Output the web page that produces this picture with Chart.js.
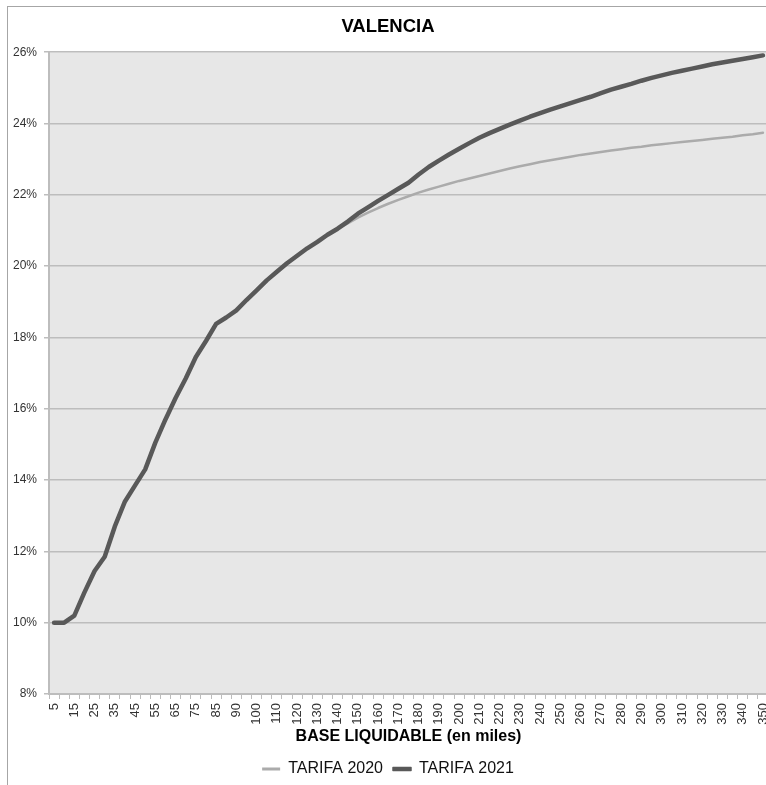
<!DOCTYPE html>
<html>
<head>
<meta charset="utf-8">
<title>VALENCIA</title>
<script src="https://cdn.jsdelivr.net/npm/chart.js@4.4.1/dist/chart.umd.min.js"></script>
<style>
  html, body { margin: 0; padding: 0; background: #fff; overflow: hidden; width: 766px; height: 785px; }
  #frame { position: absolute; left: 7px; top: 6px; width: 771px; height: 790px; border: 1px solid #a6a6a6; }
  #frame canvas { display: block; }
</style>
</head>
<body>
<div id="frame"><canvas id="chart" width="771" height="790" style="width:771px;height:790px"></canvas></div>
<script>
  // base liquidable (miles de euros); only every second one gets a label
  const categories = [
    "5", "10", "15", "20", "25", "30", "35", "40", "45", "50",
    "55", "60", "65", "70", "75", "80", "85", "87,5", "90", "95",
    "100", "105", "110", "115", "120", "125", "130", "135", "140", "145",
    "150", "155", "160", "165", "170", "175", "180", "185", "190", "195",
    "200", "205", "210", "215", "220", "225", "230", "235", "240", "245",
    "250", "255", "260", "265", "270", "275", "280", "285", "290", "295",
    "300", "305", "310", "315", "320", "325", "330", "335", "340", "345", "350"
  ];

  // tipo medio (%)
  const tarifa2020 = [
    10.0, 10.0, 10.2, 10.85, 11.45, 11.85, 12.7, 13.4, 13.85, 14.3,
    15.05, 15.7, 16.3, 16.85, 17.45, 17.9, 18.38, 18.56, 18.76, 19.05,
    19.32, 19.6, 19.84, 20.08, 20.29, 20.5, 20.68, 20.88, 21.05, 21.2,
    21.36, 21.5, 21.63, 21.75, 21.86, 21.96, 22.06, 22.15, 22.23, 22.31,
    22.39, 22.46, 22.53, 22.6, 22.67, 22.74, 22.8, 22.86, 22.92, 22.97,
    23.02, 23.07, 23.12, 23.16, 23.2, 23.24, 23.28, 23.32, 23.35, 23.39,
    23.42, 23.45, 23.48, 23.51, 23.54, 23.57, 23.6, 23.63, 23.67, 23.7, 23.74
  ];

  const tarifa2021 = [
    10.0, 10.0, 10.2, 10.85, 11.45, 11.85, 12.7, 13.4, 13.85, 14.3,
    15.05, 15.7, 16.3, 16.85, 17.45, 17.9, 18.38, 18.56, 18.76, 19.05,
    19.32, 19.6, 19.84, 20.08, 20.29, 20.5, 20.68, 20.88, 21.05, 21.25,
    21.47, 21.65, 21.83, 22.0, 22.17, 22.34, 22.57, 22.78, 22.96, 23.13,
    23.29, 23.45, 23.6, 23.73, 23.85, 23.97, 24.08, 24.19, 24.29, 24.39,
    24.48, 24.57, 24.66, 24.75, 24.85, 24.95, 25.03, 25.11, 25.2, 25.28,
    25.35, 25.42, 25.48, 25.54, 25.6, 25.66, 25.71, 25.76, 25.81, 25.86, 25.91
  ];

  const yTicks = [8, 10, 12, 14, 16, 18, 20, 22, 24, 26];

  const FONT = "'Liberation Sans Narrow', 'Arial Narrow', 'Liberation Sans', Arial, sans-serif";

  // grey plot area like the Excel original
  const plotBg = {
    id: "plotBg",
    beforeDraw(chart) {
      const { ctx, chartArea } = chart;
      ctx.save();
      ctx.fillStyle = "#e7e7e7";
      ctx.fillRect(chartArea.left, chartArea.top, chartArea.right - chartArea.left, chartArea.bottom - chartArea.top);
      ctx.restore();
    }
  };

  const ctx = document.getElementById("chart").getContext("2d");
  new Chart(ctx, {
    type: "line",
    data: {
      labels: categories,
      datasets: [
        {
          label: "TARIFA 2021",
          data: tarifa2021,
          borderColor: "#595959",
          backgroundColor: "#595959",
          borderWidth: 4.5,
          pointRadius: 0,
          tension: 0,
          borderCapStyle: "round",
          borderJoinStyle: "round"
        },
        {
          label: "TARIFA 2020",
          data: tarifa2020,
          borderColor: "#ababab",
          backgroundColor: "#ababab",
          borderWidth: 2.5,
          pointRadius: 0,
          tension: 0,
          borderCapStyle: "round",
          borderJoinStyle: "round"
        }
      ]
    },
    options: {
      responsive: false,
      animation: false,
      layout: { padding: { left: 0, right: 11, top: 0, bottom: 10 } },
      plugins: {
        title: {
          display: true,
          text: "VALENCIA",
          color: "#000",
          font: { family: FONT, size: 18.5, weight: "bold" },
          padding: { top: 9, bottom: 14 }
        },
        legend: {
          position: "bottom",
          reverse: true,
          labels: {
            color: "#111",
            font: { family: FONT, size: 16 },
            boxWidth: 18,
            boxHeight: 3,
            padding: 10,
            generateLabels(chart) {
              const items = Chart.defaults.plugins.legend.labels.generateLabels(chart);
              items.forEach(it => {
                it.fillStyle = it.strokeStyle;
                it.lineWidth = it.text === "TARIFA 2021" ? 1.5 : 0;
              });
              return items;
            }
          }
        },
        tooltip: { enabled: false }
      },
      scales: {
        x: {
          offset: true,
          grid: { display: true, drawOnChartArea: false, offset: true, tickLength: 5, color: "#bdbdbd", lineWidth: 1 },
          border: { display: true, color: "#bdbdbd", width: 2 },
          ticks: {
            autoSkip: false,
            minRotation: 90,
            maxRotation: 90,
            padding: 4,
            color: "#333",
            font: { family: FONT, size: 13 },
            callback: (val, i) => (i % 2 === 0 ? categories[i] : "")
          },
          title: {
            display: true,
            text: "BASE LIQUIDABLE (en miles)",
            color: "#000",
            font: { family: FONT, size: 16, weight: "bold" },
            padding: { top: 4, bottom: 5 }
          },
          afterFit(scale) { scale.height = 57; scale.paddingRight = 0; }
        },
        y: {
          min: yTicks[0],
          max: yTicks[yTicks.length - 1],
          afterBuildTicks(scale) { scale.ticks = yTicks.map(v => ({ value: v })); },
          grid: { color: "#bdbdbd", lineWidth: 1.5, tickLength: 5 },
          border: { display: true, color: "#bdbdbd", width: 2 },
          ticks: {
            padding: 7,
            color: "#333",
            font: { family: FONT, size: 12 },
            callback: v => v + "%"
          },
          afterFit(scale) { scale.width = 41; }
        }
      }
    },
    plugins: [plotBg]
  });
</script>
</body>
</html>
